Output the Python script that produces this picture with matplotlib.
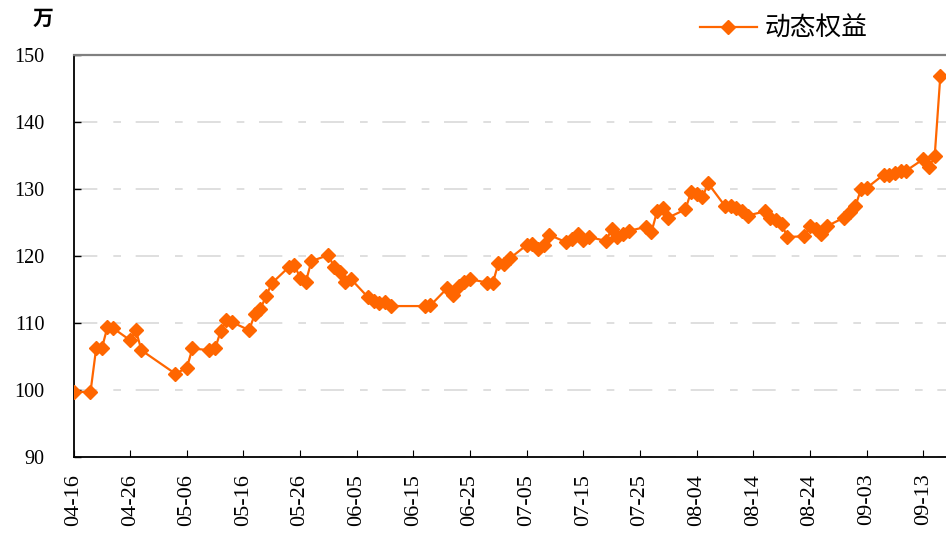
import numpy as np
import pandas as pd
import matplotlib
matplotlib.use("Agg")
import matplotlib.pyplot as plt
import matplotlib.dates as mdates

year = 2010
dates = ["04-16", "04-19", "04-20", "04-21", "04-22", "04-23", "04-26", "04-27", "04-28",
         "05-04", "05-06", "05-07", "05-10", "05-11", "05-12", "05-13", "05-14",
         "05-17", "05-18", "05-19", "05-20", "05-21", "05-24", "05-25", "05-26",
         "05-27", "05-28", "05-31",
         "06-01", "06-02", "06-03", "06-04", "06-07", "06-08", "06-09", "06-10",
         "06-11", "06-17", "06-18", "06-21", "06-22", "06-23", "06-24", "06-25",
         "06-28", "06-29", "06-30",
         "07-01", "07-02", "07-05", "07-06", "07-07", "07-08", "07-09", "07-12",
         "07-13", "07-14", "07-15", "07-16", "07-19", "07-20", "07-21", "07-22",
         "07-23", "07-26", "07-27", "07-28", "07-29", "07-30",
         "08-02", "08-03", "08-04", "08-05", "08-06", "08-09", "08-10", "08-11",
         "08-12", "08-13", "08-16", "08-17", "08-18", "08-19", "08-20", "08-23",
         "08-24", "08-25", "08-26", "08-27", "08-30", "08-31",
         "09-01", "09-02", "09-03", "09-06", "09-07", "09-08", "09-09", "09-10",
         "09-13", "09-14", "09-15", "09-16"]
equity = [99.7, 99.7, 106.2, 106.2, 109.4, 109.2, 107.4, 108.9, 105.9,
          102.4, 103.3, 106.2, 105.9, 106.2, 108.8, 110.4, 110.1,
          108.9, 111.3, 112.1, 114.0, 115.9, 118.3, 118.6, 116.7,
          116.1, 119.2, 120.1,
          118.3, 117.6, 116.1, 116.5, 113.8, 113.2, 112.9, 113.1,
          112.5, 112.5, 112.6, 115.2, 114.1, 115.5, 116.1, 116.5,
          116.0, 115.9, 118.9,
          118.8, 119.6, 121.6, 121.7, 121.0, 121.6, 123.1, 122.0,
          122.5, 123.2, 122.3, 122.8, 122.2, 124.0, 122.8, 123.2,
          123.7, 124.3, 123.5, 126.6, 127.1, 125.7,
          126.9, 129.5, 129.2, 128.7, 130.8, 127.4, 127.4, 127.1,
          126.6, 126.0, 126.6, 125.7, 125.3, 124.7, 122.8, 122.9,
          124.4, 124.0, 123.2, 124.4, 125.7, 126.5,
          127.4, 129.9, 130.1, 132.1, 132.0, 132.3, 132.6, 132.7,
          134.4, 133.2, 134.8, 146.8]
yticks = [90, 100, 110, 120, 130, 140, 150]

x = pd.to_datetime([f"{year}-{d}" for d in dates])
orange = "#FF6600"

fig = plt.figure(figsize=(9.46, 5.35), dpi=100)
ax = fig.add_axes([73.5 / 946, 1 - 457 / 535, 1 - 73.5 / 946, (457 - 54.5) / 535])

ax.plot(x, equity, color=orange, lw=1.6, marker="D", ms=7.4, mec=orange, mfc=orange,
        label="动态权益", zorder=3)

ax.set_ylim(90, 150)
ax.set_yticks(yticks)
start = pd.Timestamp(f"{year}-04-16")
ax.set_xlim(start, start + pd.Timedelta(days=154))
ticks = pd.date_range(start, periods=16, freq="10D")
ax.set_xticks(ticks)
ax.xaxis.set_major_formatter(mdates.DateFormatter("%m-%d"))

ax.yaxis.grid(True, color="#D9D9D9", lw=1.2, linestyle=(0, (14, 9.6, 4.6, 8.8)))
ax.set_axisbelow(True)

ax.spines["right"].set_visible(False)
ax.spines["top"].set_color("#808080")
ax.spines["top"].set_linewidth(1.6)
ax.spines["left"].set_linewidth(1.3)
ax.spines["bottom"].set_linewidth(1.3)

ax.tick_params(axis="y", direction="in", length=5, width=1, pad=21)
ax.tick_params(axis="x", direction="in", length=5, width=0.8, pad=12)
for lab in ax.get_yticklabels():
    lab.set_fontfamily("Liberation Serif")
    lab.set_fontsize(14.5)
for lab in ax.get_xticklabels():
    lab.set_fontfamily("Liberation Serif")
    lab.set_fontsize(16)
    lab.set_rotation(90)

fig.text(43 / 946, 1 - 18 / 535, "万", family=["Noto Sans CJK SC", "DejaVu Sans"],
         fontsize=15, fontweight="bold", ha="center", va="center")

leg = fig.legend(loc="center left", bbox_to_anchor=(700 / 946, 1 - 29 / 535),
                 frameon=False, borderpad=0, borderaxespad=0, handlelength=2.2,
                 handletextpad=0.3,
                 prop={"family": ["Noto Sans CJK SC", "DejaVu Sans"], "size": 18.5})

fig.savefig("out.png", dpi=100)
